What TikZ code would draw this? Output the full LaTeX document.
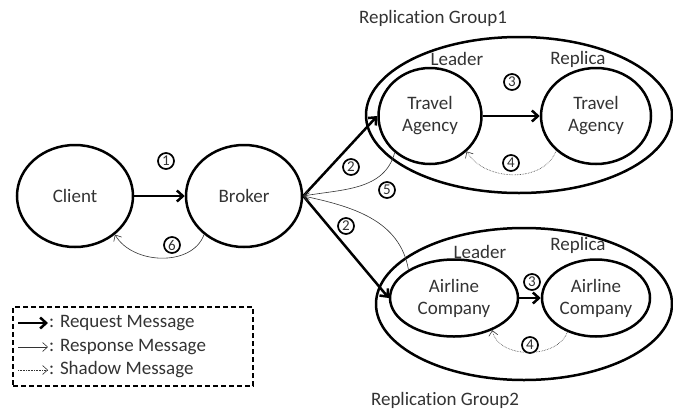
\documentclass[tikz,border=0pt]{standalone}
\usepackage{fontspec}
\setmainfont{Carlito}[Ligatures={NoCommon}]
\usetikzlibrary{shapes.geometric,arrows.meta}
\begin{document}
\begin{tikzpicture}[x=1pt,y=-1pt,
  every node/.style={font=\fontsize{19}{22}\selectfont, text=black!80},
  ell/.style={ellipse, draw, line width=2.5pt, inner sep=0pt, align=center},
  num/.style={circle, draw, line width=1.7pt, inner sep=0pt, minimum size=16pt, font=\fontsize{15}{15}\selectfont},
  req/.style={-{Straight Barb[length=6pt,width=11pt]}, line width=2.5pt},
  resp/.style={-{Straight Barb[length=5pt,width=9pt]}, line width=0.6pt, black!80},
  shad/.style={resp, densely dotted},
  legendbox/.style={draw, line width=1.8pt, dash pattern=on 5pt off 3pt}
]
\useasboundingbox (0,0) rectangle (673,413);

% group ellipses
\node[ell, minimum width=306pt, minimum height=156pt] (g1) at (519,115) {};
\node[ell, minimum width=296pt, minimum height=152pt] (g2) at (524,304) {};

% main nodes
\node[ell, minimum width=116pt, minimum height=102pt] (client) at (75,196) {Client};
\node[ell, minimum width=116pt, minimum height=102pt] (broker) at (244,196) {Broker};
\node[ell, minimum width=103pt, minimum height=96pt] (ta1) at (430,116) {Travel\\Agency};
\node[ell, minimum width=110pt, minimum height=96pt] (ta2) at (596,116) {Travel\\Agency};
\node[ell, minimum width=128pt, minimum height=77pt] (al1) at (454,298) {Airline\\Company};
\node[ell, minimum width=108pt, minimum height=77pt] (al2) at (596,298) {Airline\\Company};

% labels
\node (lg1) at (433,18) {Replication Group1};
\node (lg2) at (445,400) {Replication Group2};
\node (lead1) at (457,59) {Leader};
\node (rep1) at (578,59) {Replica};
\node (lead2) at (480,252) {Leader};
\node (rep2) at (578,245) {Replica};

% numbers
\node[num] (n1) at (166,161) {1};
\node[num] (n6) at (172,245) {6};
\node[num] (n2a) at (351,167) {2};
\node[num] (n2b) at (346,226) {2};
\node[num] (n5) at (387,190) {5};
\node[num] (n3a) at (512,82) {3};
\node[num] (n4a) at (511,163) {4};
\node[num] (n3b) at (532,282) {3};
\node[num] (n4b) at (530,345) {4};

% request arrows
\draw[req] (client.east) -- (broker.west);
\draw[req] (broker.east) -- (ta1.west);
\draw[req] (broker.east) -- (al1.west);
\draw[req] (ta1.east) -- (ta2.west);
\draw[req] (al1.east) -- (al2.west);

% response arrows
\draw[resp] (broker.-136) to[out=-110,in=-60] (client.-44);
\draw[resp] (ta1.-134) to[out=-105,in=10] (broker.east);
\draw[resp] (al1.148) to[out=100,in=-12] (broker.east);

% shadow arrows
\draw[shad] (ta2.-139) to[out=-110,in=-60] (ta1.-44);
\draw[shad] (al2.-130) to[out=-110,in=-80] (al1.-40);

% legend
\node[legendbox, minimum width=240pt, minimum height=79pt] (legend) at (133,346.5) {};
\coordinate (la1) at (18,323);
\coordinate (lb1) at (48,323);
\coordinate (la2) at (18,347);
\coordinate (lb2) at (48,347);
\coordinate (la3) at (18,370);
\coordinate (lb3) at (48,370);
\draw[req] (la1) -- (lb1);
\draw[resp] (la2) -- (lb2);
\draw[shad] (la3) -- (lb3);
\node[anchor=west, inner sep=1pt] (t1) at (lb1) {: Request Message};
\node[anchor=west, inner sep=1pt] (t2) at (lb2) {: Response Message};
\node[anchor=west, inner sep=1pt] (t3) at (lb3) {: Shadow Message};
\end{tikzpicture}
\end{document}
